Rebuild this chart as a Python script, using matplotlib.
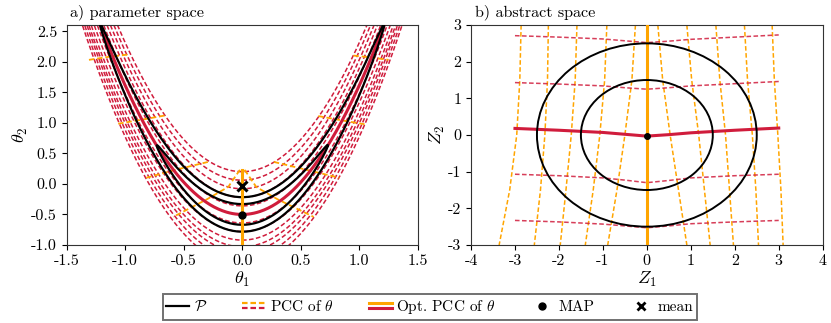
import numpy as np
import matplotlib
matplotlib.use('Agg')
import matplotlib.pyplot as plt
from matplotlib.lines import Line2D
from matplotlib.legend_handler import HandlerBase
from matplotlib.patches import Circle

plt.rcParams['font.family'] = 'serif'
plt.rcParams['font.serif'] = ['cmr10']
plt.rcParams['mathtext.fontset'] = 'cm'
plt.rcParams['axes.unicode_minus'] = False
plt.rcParams['axes.formatter.use_mathtext'] = False

RED = '#d01c3c'
ORANGE = '#ffa500'

# ---- parameter space ----
sig1, sig2, bend = 0.487, 0.113, 2.11        # banana shape
contour_radii = [1.5, 2.5]
pcc_vertex = [0.20, 0.06, -0.08, -0.22, -0.36, -0.64, -0.78, -0.92, -1.03, -1.12, -1.23, -1.34]
opt_vertex = -0.5
map_theta = (0.0, -0.51)
mean_theta = (0.0, -0.03)
# transverse PCC pieces (theta1 list, theta2 list)
cross_t1 = [[-1.31, -1.14, -0.96], [0.95, 1.10, 1.25],
            [-1.06, -0.86, -0.66], [0.65, 0.85, 1.05],
            [-0.82, -0.55, -0.27], [0.27, 0.55, 0.83],
            [-0.02, -0.12, -0.30, -0.59], [0.02, 0.12, 0.30, 0.61]]
cross_t2 = [[2.03, 2.08, 2.12], [2.10, 2.07, 2.03],
            [0.985, 1.05, 1.12], [1.11, 1.04, 0.975],
            [0.10, 0.24, 0.37], [0.36, 0.23, 0.10],
            [0.23, -0.05, -0.25, -0.54], [0.23, -0.05, -0.25, -0.54]]
opt_cross_t2 = [-1.05, 0.23]

# ---- abstract space ----
z2_levels = [3, 1.5, 0, -1.5, -3]
vert_z1 = [[-2.86, -2.89, -2.96, -3.12, -3.36],
           [-2.24, -2.26, -2.32, -2.42, -2.56],
           [-1.59, -1.63, -1.72, -1.84, -1.97],
           [-0.91, -0.96, -1.07, -1.22, -1.40],
           [-0.26, -0.34, -0.50, -0.68, -0.89],
           [0.25, 0.36, 0.53, 0.72, 0.91],
           [0.91, 1.02, 1.18, 1.31, 1.44],
           [1.57, 1.66, 1.79, 1.88, 1.97],
           [2.22, 2.29, 2.40, 2.48, 2.54],
           [2.85, 2.90, 2.98, 3.05, 3.10]]
z1_levels = [-3, -2, -1, -0.5, 0, 0.5, 1, 2, 3]
horiz_z2 = [[2.71, 2.67, 2.62, 2.57, 2.52, 2.56, 2.61, 2.67, 2.73],
            [1.43, 1.39, 1.34, 1.29, 1.25, 1.29, 1.34, 1.40, 1.46],
            [-1.07, -1.11, -1.17, -1.23, -1.30, -1.24, -1.17, -1.11, -1.07],
            [-2.33, -2.37, -2.43, -2.48, -2.53, -2.48, -2.42, -2.37, -2.33]]
opt_z2 = [0.18, 0.13, 0.07, 0.02, -0.03, 0.01, 0.06, 0.13, 0.19]
map_z = (0.0, -0.03)


class StackHandler(HandlerBase):
    # two lines above each other in one legend entry
    def create_artists(self, legend, orig_handle, xdescent, ydescent,
                       width, height, fontsize, trans):
        out = []
        for k, src in enumerate(orig_handle):
            y = height * (0.72 - 0.42 * k) - ydescent
            ln = Line2D([-xdescent, -xdescent + width], [y, y])
            ln.update_from(src)
            ln.set_transform(trans)
            out.append(ln)
        return out


fig = plt.figure(figsize=(8.31, 3.23), dpi=100)
ax1 = fig.add_axes([0.0803, 0.2415, 0.4224, 0.681])
ax2 = fig.add_axes([0.5668, 0.2415, 0.4232, 0.681])

# parameter space
t1 = np.linspace(-1.6, 1.6, 400)
for c in pcc_vertex:
    ax1.plot(t1, c + bend * t1 ** 2, color=RED, ls='--', lw=1.1, dashes=(3, 1.6), zorder=1)
for xs, ys in zip(cross_t1, cross_t2):
    ax1.plot(xs, ys, color=ORANGE, ls='--', lw=1.3, dashes=(3, 1.6), zorder=2)
t1o = np.linspace(-1.3, 1.3, 300)
ax1.plot(t1o, opt_vertex + bend * t1o ** 2, color=RED, lw=2.2, zorder=3)
ax1.plot([0, 0], opt_cross_t2, color=ORANGE, lw=2.2, zorder=5)
ang = np.linspace(0, 2 * np.pi, 400)
for r in contour_radii:
    a = sig1 * r * np.cos(ang)
    b = sig2 * r * np.sin(ang) + opt_vertex + bend * a ** 2
    ax1.plot(a, b, color='black', lw=1.6, zorder=4)
ax1.plot(*map_theta, 'o', color='black', ms=5, zorder=6)
ax1.plot(*mean_theta, 'x', color='black', ms=7, mew=2.2, zorder=6)
ax1.set_xlim(-1.5, 1.5)
ax1.set_ylim(-1.0, 2.6)
ax1.set_xticks(np.arange(-1.5, 1.51, 0.5))
ax1.set_yticks(np.arange(-1.0, 2.51, 0.5))
ax1.set_xlabel(r'$\theta_1$', fontsize=13, labelpad=1)
ax1.set_ylabel(r'$\theta_2$', fontsize=13, labelpad=1)
ax1.set_title('a) parameter space', loc='left', fontsize=11.6, pad=6, x=0.01)

# abstract space
for xs in vert_z1:
    ax2.plot(xs, z2_levels, color=ORANGE, ls='--', lw=1.1, dashes=(3, 1.6), zorder=1)
for ys in horiz_z2:
    ax2.plot(z1_levels, ys, color=RED, ls='--', lw=1.1, dashes=(3, 1.6), zorder=2, alpha=0.85)
ax2.plot(z1_levels, opt_z2, color=RED, lw=2.2, zorder=3)
ax2.plot([0, 0], [-3, 3], color=ORANGE, lw=2.2, zorder=3)
for r in contour_radii:
    ax2.add_patch(Circle((0, 0), r, fill=False, ec='black', lw=1.4, zorder=4))
ax2.plot(*map_z, 'o', color='black', ms=4, zorder=6)
ax2.set_xlim(-4, 4)
ax2.set_ylim(-3, 3)
ax2.set_xticks(range(-4, 5))
ax2.set_yticks(range(-3, 4))
ax2.set_xlabel(r'$Z_1$', fontsize=13, labelpad=1)
ax2.set_ylabel(r'$Z_2$', fontsize=13, labelpad=1)
ax2.set_title('b) abstract space', loc='left', fontsize=11.6, pad=6, x=0.01)

for ax in (ax1, ax2):
    ax.tick_params(labelsize=11.5)
    for s in ax.spines.values():
        s.set_color('0.2')

h_p = Line2D([], [], color='black', lw=1.6)
h_pcc = (Line2D([], [], color=ORANGE, ls='--', lw=1.6, dashes=(2.5, 1.3)),
         Line2D([], [], color=RED, ls='--', lw=1.6, dashes=(2.5, 1.3)))
h_opt = (Line2D([], [], color=ORANGE, lw=2.2), Line2D([], [], color=RED, lw=2.2))
h_map = Line2D([], [], color='black', marker='o', ls='', ms=5)
h_mean = Line2D([], [], color='black', marker='x', ls='', ms=6, mew=2)
leg = fig.legend([h_p, h_pcc, h_opt, h_map, h_mean],
                 [r'$\mathcal{P}$', r'PCC of $\theta$', r'Opt. PCC of $\theta$', 'MAP', 'mean'],
                 handler_map={tuple: StackHandler()}, loc='center',
                 bbox_to_anchor=(0.517, 0.05), ncol=5, fontsize=11, frameon=True,
                 fancybox=False, edgecolor='0.3', handlelength=1.5, columnspacing=2.3,
                 borderpad=0.25, handletextpad=0.3)
leg.get_frame().set_linewidth(1.4)

fig.savefig('out.png', dpi=100)
